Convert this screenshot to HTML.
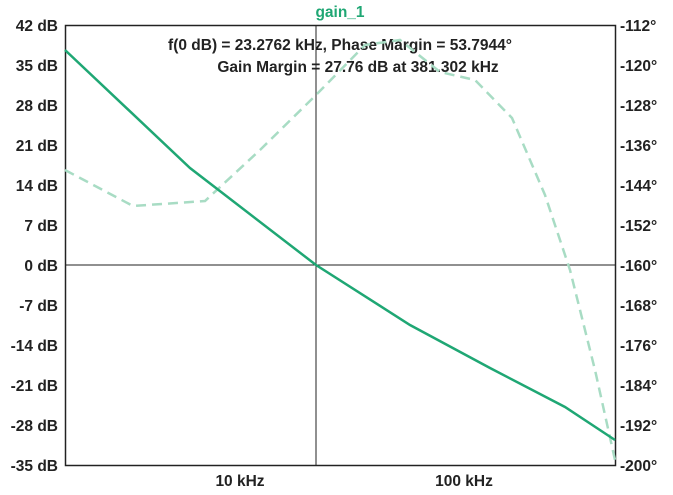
<!DOCTYPE html>
<html><head><style>
body{margin:0;background:#fff;}
text{font-family:"Liberation Sans",sans-serif;font-weight:bold;font-size:15.5px;fill:#222;}
</style></head><body>
<svg width="673" height="490" xmlns="http://www.w3.org/2000/svg">
<rect x="65.5" y="25.5" width="550" height="440" fill="none" stroke="#222" stroke-width="1.5"/>
<line x1="316" y1="25" x2="316" y2="465" stroke="#222" stroke-width="1"/>
<line x1="65" y1="265" x2="615" y2="265" stroke="#222" stroke-width="1"/>
<text x="340" y="17" text-anchor="middle" style="fill:#1fa774">gain_1</text>
<text x="340" y="50" text-anchor="middle">f(0 dB) = 23.2762 kHz, Phase Margin = 53.7944°</text>
<text x="358" y="72" text-anchor="middle">Gain Margin = 27.76 dB at 381.302 kHz</text>
<g text-anchor="end">
<text x="58" y="31">42 dB</text><text x="58" y="71">35 dB</text><text x="58" y="111">28 dB</text>
<text x="58" y="151">21 dB</text><text x="58" y="191">14 dB</text><text x="58" y="231">7 dB</text>
<text x="58" y="271">0 dB</text><text x="58" y="311">-7 dB</text><text x="58" y="351">-14 dB</text>
<text x="58" y="391">-21 dB</text><text x="58" y="431">-28 dB</text><text x="58" y="471">-35 dB</text>
</g>
<g>
<text x="620" y="31">-112°</text><text x="620" y="71">-120°</text><text x="620" y="111">-128°</text>
<text x="620" y="151">-136°</text><text x="620" y="191">-144°</text><text x="620" y="231">-152°</text>
<text x="620" y="271">-160°</text><text x="620" y="311">-168°</text><text x="620" y="351">-176°</text>
<text x="620" y="391">-184°</text><text x="620" y="431">-192°</text><text x="620" y="471">-200°</text>
</g>
<text x="240" y="486" text-anchor="middle">10 kHz</text>
<text x="464" y="486" text-anchor="middle">100 kHz</text>
<polyline fill="none" stroke="#a8dcc4" stroke-width="2.5" stroke-dasharray="10,6" points="65,170 133,206 205,201 260,150 316,95 365,45 400,40 440,72 475,80 512,118 545,195 570,270 595,370 615,460"/>
<polyline fill="none" stroke="#1fa774" stroke-width="2.5" points="65,50 190,168 316,265 410,325 490,368 565,407 615,440"/>
</svg>
</body></html>
